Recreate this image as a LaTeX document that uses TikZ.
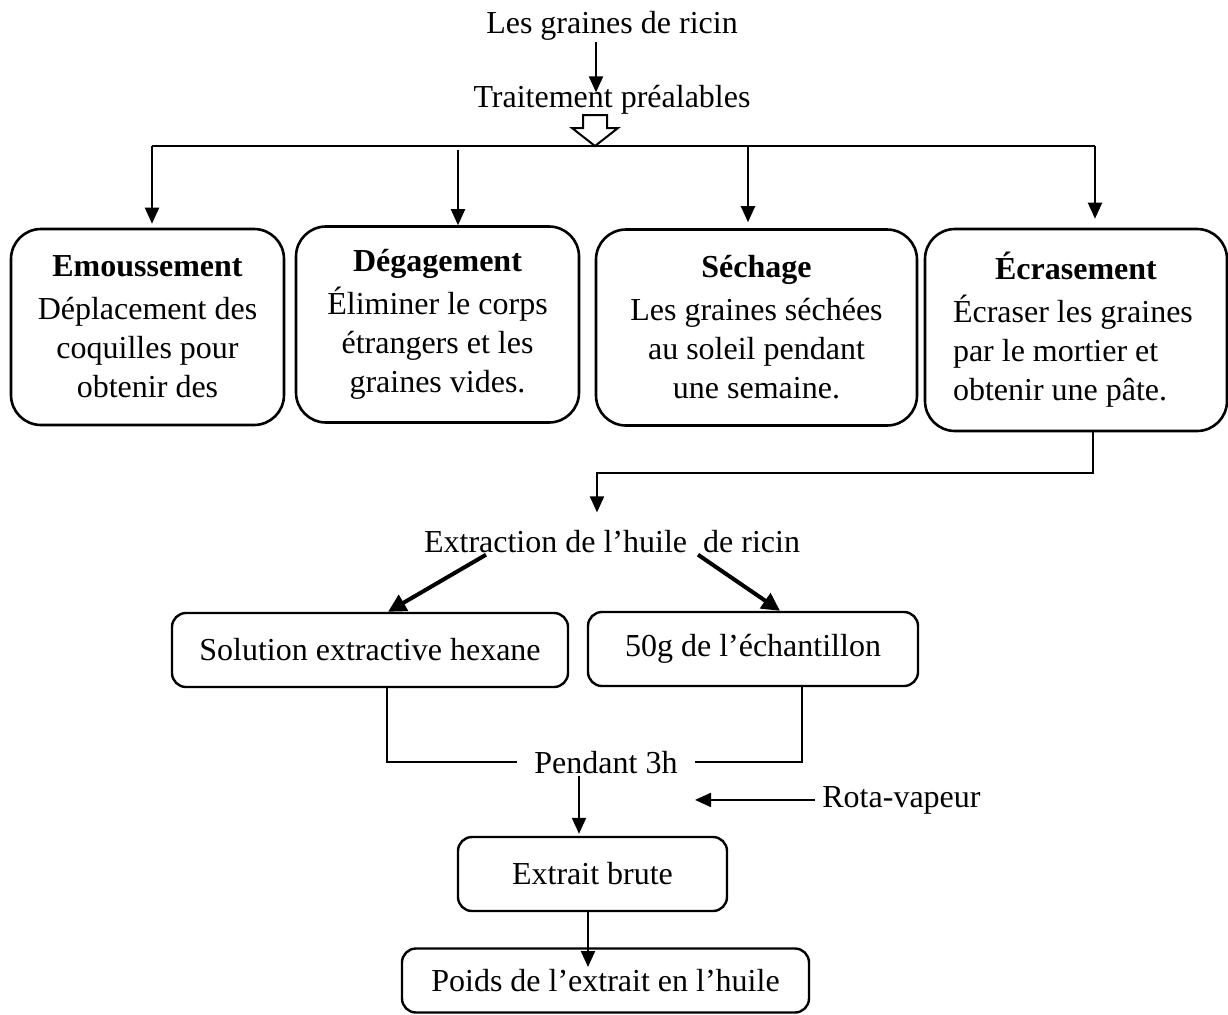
\documentclass[tikz,border=0pt]{standalone}
\usepackage{fontspec}
\setmainfont{Liberation Serif}
\usepackage{tikz}
\usetikzlibrary{arrows.meta,positioning}

\begin{document}
\begin{tikzpicture}[x=0.5pt,y=-0.5pt,>={Triangle[width=7pt,length=8pt]},
  every node/.style={font=\fontsize{16pt}{19.5pt}\selectfont}]
  \tikzstyle{txt}=[inner sep=1pt]
  \tikzstyle{stage}=[draw,line width=1.3pt,rounded corners=15pt,align=center,
                     minimum height=98pt]
  \tikzstyle{result}=[draw,line width=1.2pt,rounded corners=7pt,minimum height=37pt]
  \tikzstyle{link}=[line width=1pt]
  \tikzstyle{arr}=[link,->]
  \tikzstyle{bold arr}=[line width=2pt,->,>={Triangle[width=9pt,length=9pt]}]

  \useasboundingbox (0,0) rectangle (1228,1014);

  \node [txt,anchor=base] (seeds) at (612,33) {Les graines de ricin};
  \node [txt,anchor=base] (treat) at (612,107) {Traitement préalables};
  \draw [arr] ([xshift=-8pt]seeds.south) -- ([xshift=-8pt,yshift=-5pt]treat.north);

  \coordinate (hub) at (595,146);
  \draw [link] (hub) -- ++(-23,-18) -- ++(11,0) -- ++(0,-13) -- ++(24,0)
    -- ++(0,13) -- ++(11,0) -- cycle;

  \coordinate (b1) at (152,146);
  \coordinate (b2) at (458,146);
  \coordinate (b3) at (748,146);
  \coordinate (b4) at (1095,146);
  \draw [link] (b1) -- (b4);

  \node [stage,minimum width=136.5pt] (emo) at (147.5,327)
    {\textbf{Emoussement}\\[2pt] Déplacement des\\ coquilles pour\\ obtenir des};
  \node [stage,minimum width=141.5pt] (deg) at (437.5,324.5)
    {\textbf{Dégagement}\\[2pt] Éliminer le corps\\ étrangers et les\\ graines vides.};
  \node [stage,minimum width=160.5pt] (sech) at (756.5,327.5)
    {\textbf{Séchage}\\[2pt] Les graines séchées\\ au soleil pendant\\ une semaine.};
  \node [stage,minimum width=151pt,minimum height=101pt,text width=123pt,
         align=flush left] (ecr)
    at (1076,330) {\makebox[\linewidth]{\textbf{Écrasement}}\\[2pt]
    Écraser les graines\\ par le mortier et\\ obtenir une pâte.};

  \draw [arr,shorten >=2pt] (b1) -- (b1 |- emo.north);
  \draw [arr] ([yshift=-2pt]b2) -- (b2 |- deg.north);
  \draw [arr,shorten >=3pt] (b3) -- (b3 |- sech.north);
  \draw [arr,shorten >=4.5pt] (b4) -- (b4 |- ecr.north);

  \node [txt,anchor=base] (ext) at (612,552) {Extraction de l’huile~ de ricin};
  \draw [arr,shorten >=7.5pt] ([xshift=8.5pt]ecr.south) -- ++(0,41)
    -| ([xshift=-7.5pt]ext.north);

  \node [result,minimum width=198pt] (sol) at (370,650) {Solution extractive hexane};
  \node [result,minimum width=165pt] (ech) at (753,649) {50g de l’échantillon};
  \draw [bold arr] ([xshift=-63pt]ext.south) -- ([xshift=9pt]sol.north);
  \draw [bold arr] ([xshift=43pt]ext.south) -- ([xshift=13.5pt]ech.north);

  \node [txt,anchor=base,inner xsep=8.5pt] (pend) at (606,773) {Pendant 3h};
  \draw [link] ([xshift=8.5pt]sol.south) |- (pend.west);
  \draw [link] ([xshift=24.5pt]ech.south) |- (pend.east);

  \node [txt,anchor=base west,inner xsep=3.5pt] (rota) at (815,807) {Rota-vapeur};
  \coordinate (rtip) at ([xshift=-60pt]rota.west);
  \draw [arr] (rota.west) -- (rtip);

  \node [result,minimum width=134.5pt] (brute) at (592.5,874) {Extrait brute};
  \coordinate (p1) at ([xshift=-13.5pt]pend.south);
  \draw [arr,shorten >=1pt] (p1) -- (p1 |- brute.north);

  \node [result,minimum width=203.5pt,minimum height=32pt] (poids) at (605.5,980.5)
    {Poids de l’extrait en l’huile};
  \coordinate (p2) at ([xshift=-2.25pt]brute.south);
  \draw [arr,shorten >=6.75pt] (p2) -- (p2 |- poids.center);
\end{tikzpicture}
\end{document}
